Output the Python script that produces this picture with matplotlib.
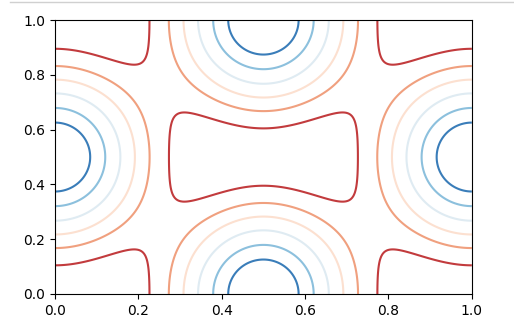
import numpy as np
import matplotlib.pyplot as plt
from matplotlib.lines import Line2D

# bump centres (one period), the field repeats every 1.0 in x and y
peak_x = [0.5, 0.0]
peak_y = [0.0, 0.5]
aspect = 1.5      # x stretch, makes the rings round on screen
width = 0.33      # bump width

# contour levels and their colours (RdBu shades)
levels = [0.2833, 0.3883, 0.4965, 0.6195, 0.7512, 0.8691]
colors = ['#c23b3d', '#f0a07f', '#fce0d0', '#dfebf2', '#8cc0dd', '#3a7db9']

def field(X, Y):
    acc = np.zeros_like(X, dtype=float)
    for px, py in zip(peak_x, peak_y):
        for i in range(-2, 4):
            for j in range(-2, 4):
                d2 = ((X - px - i) * aspect) ** 2 + (Y - py - j) ** 2
                acc += np.exp(-d2 / width ** 2)
    return acc

x = np.linspace(0, 1, 300)
y = np.linspace(0, 1, 300)
X, Y = np.meshgrid(x, y)
Z = field(X, Y)

fig = plt.figure(figsize=(5.14, 3.35), dpi=100)
ax = fig.add_axes([0.107, 0.1224, 0.811, 0.8176])
ax.contour(X, Y, Z, levels=levels, colors=colors)

# notebook cell border at the top
fig.add_artist(Line2D([0.02, 1], [0.994, 0.994], color='#d0d0d0', lw=1))
fig.savefig('out.png')
